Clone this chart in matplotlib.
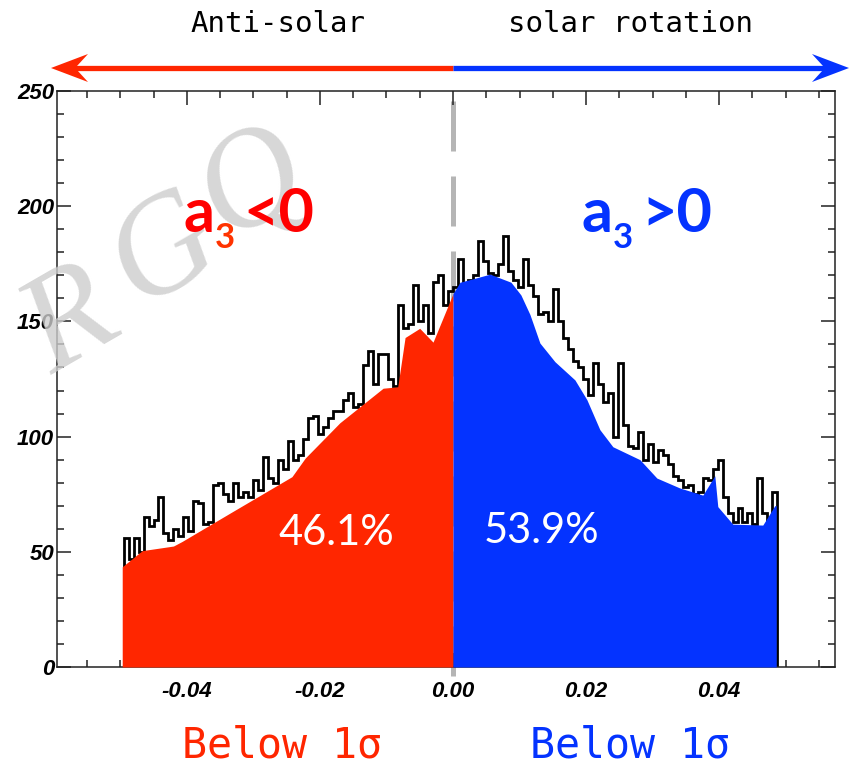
import matplotlib.pyplot as plt
from matplotlib.patches import Polygon
from matplotlib.lines import Line2D
from matplotlib.ticker import MultipleLocator, FixedLocator
from matplotlib.transforms import Affine2D

W, H = 850, 766

# histogram of a3 values: fixed-width bins starting at BIN_START
BIN_START = -0.0495
BIN_WIDTH = 0.00075
counts = [
    56, 47, 56, 50, 65, 61, 64, 74, 58, 55, 60, 57, 65, 59, 72, 71, 62, 63,
    79, 80, 75, 72, 80, 74, 76, 74, 81, 77, 91, 82, 80, 90, 86, 98, 90, 92,
    99, 108, 109, 101, 104, 108, 111, 111, 116, 119, 113, 114, 131, 137, 123,
    136, 136, 125, 122, 157, 147, 149, 166, 150, 157, 145, 167, 170, 157, 163,
    165, 177, 166, 168, 170, 185, 176, 171, 170, 175, 187, 172, 168, 165, 177,
    166, 161, 153, 154, 150, 164, 150, 143, 138, 133, 130, 125, 118, 132, 123,
    115, 119, 100, 132, 105, 96, 95, 102, 90, 97, 89, 94, 92, 88, 83, 81, 78,
    79, 75, 76, 82, 81, 86, 90, 74, 67, 63, 69, 63, 67, 62, 82, 67, 64, 76,
]

# smoothed envelope below 1 sigma, split at a3 = 0
neg_x = [-0.0497, -0.0467, -0.0420, -0.0407, -0.0335, -0.0242, -0.0222,
         -0.0170, -0.0105, -0.0083, -0.0072, -0.0050, -0.0030, 0.0]
neg_y = [43.5, 50.5, 52.5, 54.5, 66.8, 82.6, 90.7, 106, 121, 121.6, 143,
         147, 141, 162]
pos_x = [0.0, 0.00105, 0.0030, 0.00556, 0.00871, 0.0102, 0.01156, 0.01306,
         0.01532, 0.01832, 0.02012, 0.02207, 0.02402, 0.02808, 0.03063,
         0.03408, 0.03754, 0.03934, 0.03979, 0.04204, 0.04655, 0.04835,
         0.04857]
pos_y = [162, 167, 168.5, 170.5, 167, 161.5, 153, 140.6, 132.5, 124.6, 116,
         103, 95.6, 90, 82, 77.7, 74.6, 83, 69.6, 62, 61.6, 70, 70]

shares = ["46.1%", "53.9%"]
directions = ["Anti-solar", "solar rotation"]
xticks = [-0.04, -0.02, 0.0, 0.02, 0.04]
xtick_labels = ["-0.04", "-0.02", "0.00", "0.02", "0.04"]
yticks = [0, 50, 100, 150, 200, 250]

RED = "#ff2600"
BLUE = "#0433ff"
MONO = "DejaVu Sans Mono"
TICKFONT = dict(family="Liberation Sans", weight="bold", style="italic", size=16)

fig = plt.figure(figsize=(W / 100, H / 100), dpi=100)
ax = fig.add_axes([57 / W, 1 - 667 / H, (835 - 57) / W, (667 - 91) / H])
ax.patch.set_visible(False)

edges = [BIN_START + i * BIN_WIDTH for i in range(len(counts) + 1)]
ax.stairs(counts, edges, color="black", lw=2.0, baseline=0, zorder=2)
ax.fill_between(neg_x, neg_y, 0, color=RED, lw=0, zorder=3)
ax.fill_between(pos_x, pos_y, 0, color=BLUE, lw=0, zorder=3)
ax.plot([0, 0], [-4, 248], color="#b5b5b5", lw=3.6, ls=(0, (10, 5)),
        clip_on=False, zorder=1.5)

ax.set_xlim(-0.0595, 0.0574)
ax.set_ylim(0, 250)
ax.xaxis.set_major_locator(FixedLocator(xticks))
ax.xaxis.set_minor_locator(MultipleLocator(0.005))
ax.yaxis.set_major_locator(FixedLocator(yticks))
ax.yaxis.set_minor_locator(MultipleLocator(10))
ax.set_xticklabels(xtick_labels, fontdict=TICKFONT)
ax.set_yticklabels([str(v) for v in yticks], fontdict=TICKFONT)
ax.tick_params(which="both", direction="in", top=True, right=True,
               width=1.1, color="#222222")
ax.tick_params(which="major", length=10)
ax.tick_params(which="minor", length=5)
ax.tick_params(axis="x", pad=10)
ax.tick_params(axis="y", pad=2)
for sp in ax.spines.values():
    sp.set_linewidth(1.1)
    sp.set_color("#222222")

# pixel-space transform (origin top-left) for annotations around the plot
pix = Affine2D().scale(1 / W, -1 / H).translate(0, 1) + fig.transFigure

# double arrow: anti-solar to the left, solar to the right
fig.add_artist(Line2D([75, 453], [68, 68], color=RED, lw=3.8,
                      solid_capstyle="butt", transform=pix))
fig.add_artist(Line2D([453, 825], [68, 68], color=BLUE, lw=3.8,
                      solid_capstyle="butt", transform=pix))
fig.add_artist(Polygon([(51, 68), (88, 54), (77, 66), (77, 70), (88, 82)],
                       closed=True, color=RED, lw=0, transform=pix))
fig.add_artist(Polygon([(849, 68), (812, 54), (823, 66), (823, 70), (812, 82)],
                       closed=True, color=BLUE, lw=0, transform=pix))
fig.text(278 / W, 1 - 24 / H, directions[0], family=MONO, size=21,
         ha="center", va="center")
fig.text(631 / W, 1 - 24 / H, directions[1], family=MONO, size=21,
         ha="center", va="center")

# faint handwritten watermark
for ch, px, py in [("R", 72, 325), ("G", 165, 253), ("Q", 253, 185)]:
    ax.text(px / W, 1 - py / H, ch, transform=fig.transFigure,
            family="Liberation Serif", style="italic", size=100,
            color="#cdcdcd", alpha=0.8, rotation=30, ha="center",
            va="center", clip_on=False, zorder=6)

# a3 sign labels
big = dict(family="Lato", weight="bold", size=44, va="baseline",
           transform=pix, zorder=8)
sub = dict(family="Lato", weight="bold", size=25, va="baseline",
           transform=pix, zorder=8)
ax.text(184, 232, "a", color="#ff0000", **big)
ax.text(215, 248, "3", color="#ff3300", **sub)
ax.text(243, 232, "<0", color="#ff0000", **big)
ax.text(582, 232, "a", color=BLUE, **big)
ax.text(613, 248, "3", color=BLUE, **sub)
ax.text(641, 232, ">0", color=BLUE, **big)

ax.text(336, 533, shares[0], transform=pix, family="Lato", size=30,
        color="white", ha="center", va="center", zorder=8)
ax.text(541, 531, shares[1], transform=pix, family="Lato", size=30,
        color="white", ha="center", va="center", zorder=8)

fig.text(282 / W, 1 - 745 / H, "Below 1σ", family=MONO, size=30,
         color=RED, ha="center", va="center")
fig.text(630 / W, 1 - 745 / H, "Below 1σ", family=MONO, size=30,
         color=BLUE, ha="center", va="center")

fig.savefig("out.png", dpi=100)
